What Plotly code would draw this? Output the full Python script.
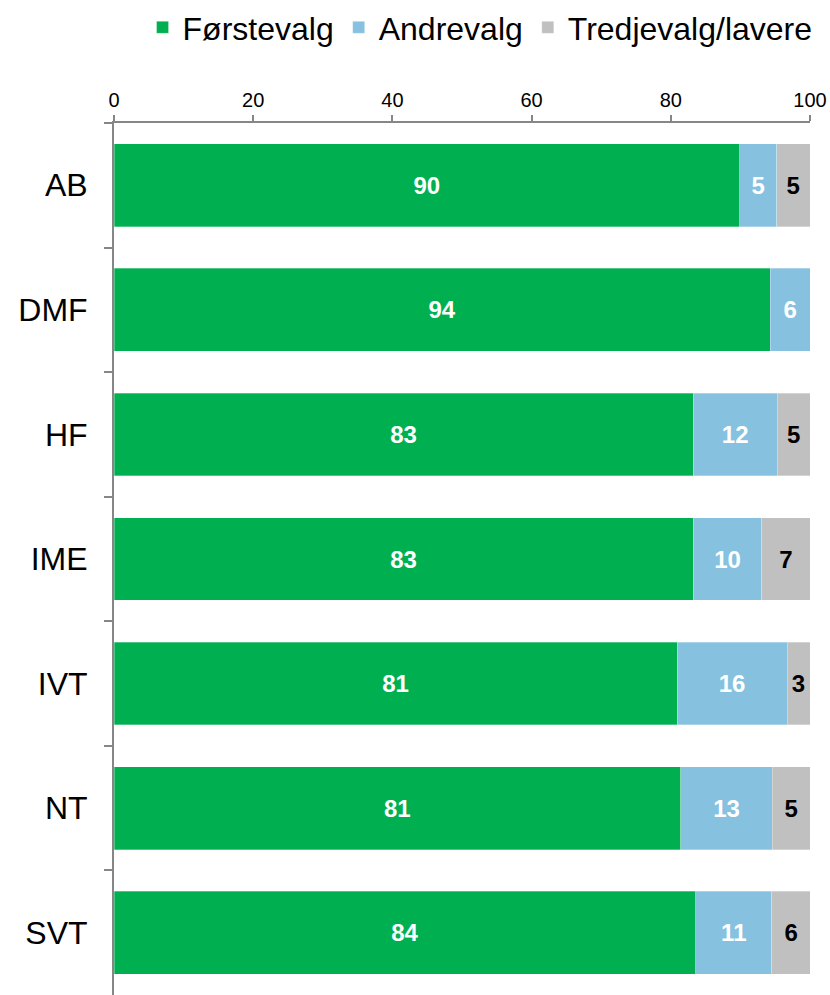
import plotly.graph_objects as go

categories = ["AB", "DMF", "HF", "IME", "IVT", "NT", "SVT"]
forstevalg = [89.9, 94.3, 83.2, 83.2, 80.9, 81.4, 83.6]
andrevalg = [5.3, 5.7, 12.1, 9.9, 15.8, 13.2, 10.9]
tredjevalg = [4.8, 0, 4.7, 6.9, 3.3, 5.4, 5.6]
x_ticks = [0, 20, 40, 60, 80, 100]

series = [
    ("Førstevalg", forstevalg, "#00B050", "white"),
    ("Andrevalg", andrevalg, "#86C1E0", "white"),
    ("Tredjevalg/lavere", tredjevalg, "#C0C0C0", "black"),
]

fig = go.Figure()
for name, vals, color, tcolor in series:
    texts = [f"{v:.0f}" if v > 0 else "" for v in vals]
    fig.add_trace(go.Bar(
        name=name, y=categories, x=vals, orientation="h",
        marker=dict(color=color, line=dict(color="rgba(255,255,255,0.6)", width=0.5)),
        text=texts, textposition="inside", insidetextanchor="middle",
        constraintext="none", textangle=0,
        textfont=dict(family="Liberation Sans, Arial", size=24, color=tcolor, weight="bold"),
        hoverinfo="skip",
    ))

fig.update_layout(
    barmode="stack",
    width=830, height=995,
    margin=dict(l=114, r=20, t=123, b=0),
    paper_bgcolor="white", plot_bgcolor="white",
    bargap=0.335,
    font=dict(family="Liberation Sans, Arial", color="black"),
    legend=dict(
        orientation="h", x=0.985, xanchor="right", y=1.0, yanchor="top",
        yref="container", xref="container",
        font=dict(size=32, color="black"), traceorder="normal",
        itemwidth=30,
    ),
    xaxis=dict(
        side="top", range=[0, 100], tickvals=x_ticks,
        showgrid=False, zeroline=False,
        showline=True, linecolor="#868686", linewidth=2,
        ticks="outside", ticklen=6, tickcolor="#868686", tickwidth=1.5,
        tickfont=dict(size=20, color="black"),
    ),
    yaxis=dict(
        categoryorder="array", categoryarray=categories, autorange="reversed",
        showgrid=False, showline=True, linecolor="#868686", linewidth=2,
        ticks="outside", tickson="boundaries", ticklen=8, tickcolor="#868686", tickwidth=1.5,
        tickfont=dict(size=32, color="black"), ticklabelstandoff=18,
    ),
)

fig.write_html(
    "out.html",
    config={"displayModeBar": False},
    post_script="document.body.style.margin='0';document.body.style.overflow='hidden';",
)
